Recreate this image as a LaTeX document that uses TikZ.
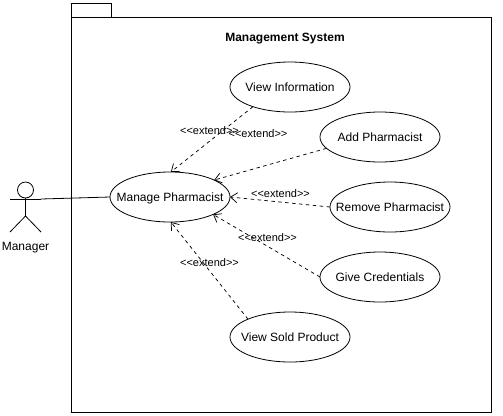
\documentclass[tikz,border=0pt]{standalone}
\usepackage{fontspec}
\setmainfont[Ligatures=TeXOff]{Liberation Sans}
\usetikzlibrary{arrows.meta,shapes.geometric}
\newcommand{\casetext}[1]{\raisebox{-3.4pt}[0pt][0pt]{\makebox[0pt][c]{#1}}}
\tikzset{
	usecase/.style={draw,shape=ellipse,minimum width=90pt,minimum height=37.5pt,inner sep=0pt,outer sep=0pt,font=\fontsize{9}{11}\selectfont},
	extendline/.style={draw,dashed,dash pattern=on 2.6pt off 2.6pt,line width=0.55pt,-{Straight Barb[length=5pt,width=7.5pt]}},
	extendtext/.style={font=\fontsize{8.25}{10}\selectfont,inner sep=0pt},
	plaintext/.style={font=\fontsize{9}{11}\selectfont,inner sep=0pt},
	actorline/.style={draw,line width=0.6pt}
}
\begin{document}
\begin{tikzpicture}[x=0.75pt,y=-0.75pt,line width=0.6pt]
\useasboundingbox (0,0) rectangle (503,415);
% package
\node (frame) [draw,anchor=north west,outer sep=0pt,inner sep=0pt,minimum width=315pt,minimum height=296.25pt] at (71,17) {};
\node (tab) [draw,anchor=south west,outer sep=0pt,inner sep=0pt,minimum width=30pt,minimum height=10.5pt] at (71,17) {};
\node (title) [plaintext,font=\fontsize{9}{11}\selectfont\bfseries] at (285,38.5) {Management System};
% actor
\node (head) [draw,circle,minimum size=12pt,inner sep=0pt,outer sep=0pt] at (25.5,190) {};
\coordinate (armL) at (10,199);
\coordinate (armR) at (41,199);
\coordinate (hip) at (25.5,216);
\coordinate (legL) at (10,232);
\coordinate (legR) at (41,232);
\draw[actorline] (head.south) -- (hip);
\draw[actorline] (armL) -- (armR);
\draw[actorline] (legL) -- (hip) -- (legR);
\node (manager) [plaintext] at (25.5,248) {Manager};
% use cases
\node (manage) [usecase] at (170,197) {\casetext{Manage Pharmacist}};
\node (view) [usecase] at (290,87) {\casetext{View Information}};
\node (add) [usecase] at (380,137) {\casetext{Add Pharmacist}};
\node (remove) [usecase] at (390,207) {\casetext{Remove Pharmacist}};
\node (give) [usecase] at (380,277) {\casetext{Give Credentials}};
\node (sold) [usecase] at (290,337) {\casetext{View Sold Product}};
% connectors
\draw[actorline] (armR) -- (manage.west);
\draw[extendline] (view.208) -- (manage.88);
\draw[extendline] (add.192) -- (manage.21);
\draw[extendline] (remove.west) -- (manage.east);
\draw[extendline] (give.west) -- (manage.-22);
\draw[extendline] (sold.157) -- (manage.-88);
% labels
\node (labelview) [extendtext] at (209.5,131) {<<extend>>};
\node (labeladd) [extendtext] at (258,134) {<<extend>>};
\node (labelremove) [extendtext] at (280.5,193.5) {<<extend>>};
\node (labelgive) [extendtext] at (267.5,238) {<<extend>>};
\node (labelsold) [extendtext] at (209.5,263) {<<extend>>};
\end{tikzpicture}
\end{document}
